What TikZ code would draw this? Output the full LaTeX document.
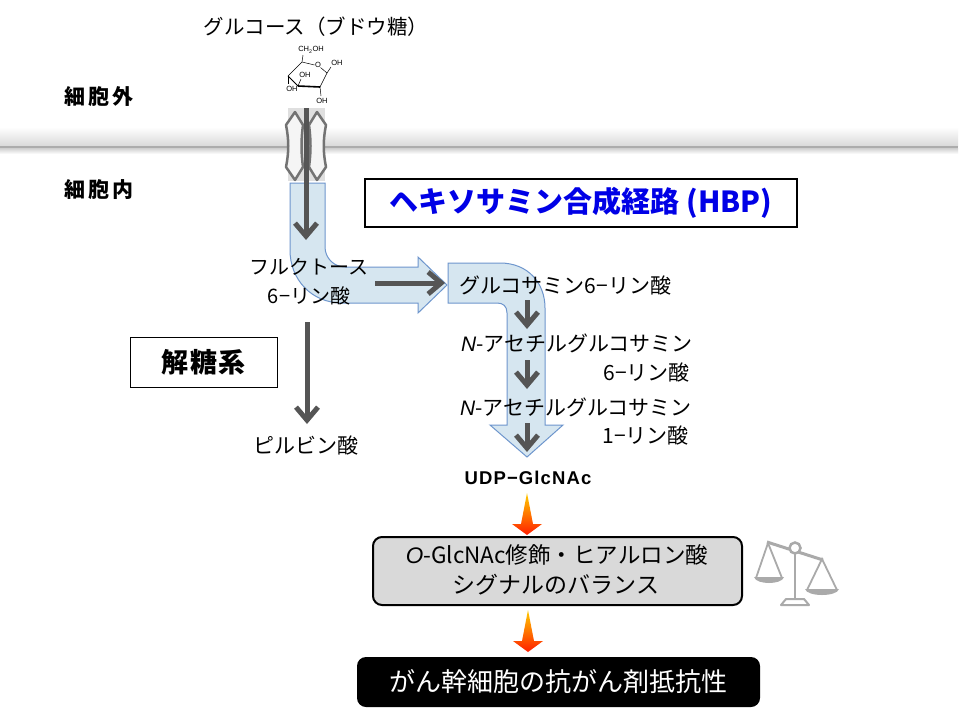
\documentclass[tikz,border=0pt]{standalone}
\usepackage{fontspec}
\setmainfont{Noto Sans CJK JP}
\newfontfamily\lsans{Liberation Sans}
\usetikzlibrary{arrows.meta,calc}
\definecolor{dgray}{RGB}{85,85,85}
\definecolor{bluefill}{RGB}{214,230,240}
\definecolor{blueline}{RGB}{110,150,205}
\definecolor{hbpblue}{RGB}{0,0,230}
\definecolor{piecegray}{RGB}{115,115,115}
\definecolor{scalegray}{RGB}{170,170,170}
\definecolor{boxgray}{RGB}{217,217,217}
\definecolor{yel}{RGB}{255,205,0}
\definecolor{red1}{RGB}{255,30,0}
\tikzset{
  darr/.style={draw=dgray, line width=5pt, -{Straight Barb[length=13pt,width=22pt]}},
  txt/.style={inner sep=0pt, font=\fontsize{20}{24}\selectfont},
  txtb/.style={inner sep=0pt, font=\fontsize{21}{24}\selectfont},
  chem/.style={inner sep=0pt, font=\lsans\fontsize{7.5}{7.5}\selectfont},
  piece/.style={draw=piecegray, line width=2.5pt, fill=gray!8, line join=round},
  bentarrow/.style={fill=bluefill, draw=blueline, line width=1pt},
  hotarrow/.style={top color=yel, bottom color=red1},
  scl/.style={draw=scalegray, line width=2.5pt},
}
\begin{document}
\begin{tikzpicture}[x=1pt,y=-1pt]
\useasboundingbox (0,0) rectangle (960,720);
\fill[white] (0,0) rectangle (960,720);
% membrane
\shade[top color=white,bottom color=gray!30] (0,127) rectangle (958,146);
\fill[gray!65] (0,146) rectangle (958,148.5);
\shade[top color=gray!35,bottom color=white] (0,148.5) rectangle (958,154);
% labels
\node[txt, font=\fontsize{21}{24}\selectfont\bfseries] (out) at (99,97) {細\kern3pt 胞\kern3pt 外};
\node[txt, font=\fontsize{21}{24}\selectfont\bfseries] (in) at (99,190) {細\kern3pt 胞\kern3pt 内};
\node[txt, font=\fontsize{20.5}{24}\selectfont] (glc) at (316,27) {グルコース（ブドウ糖）};
% glucose structure
\coordinate (c5) at (302,62);
\coordinate (o5) at (318,65);
\coordinate (c1) at (327,73);
\coordinate (c2) at (320,87);
\coordinate (c3) at (298,86);
\coordinate (c4) at (288,76);
\draw[line width=0.5pt] (c5) -- ($(o5)+(-3.5,0)$);
\draw[line width=0.5pt] ($(o5)+(2.5,2.5)$) -- (c1) -- (c2);
\draw[line width=1.6pt] (c2) -- (c3);
\draw[line width=0.8pt] (c3) -- (c4);
\draw[line width=0.5pt] (c4) -- (c5) -- (303,55);
\node[chem] (ch2oh) at (311,50) {CH\textsubscript{2}OH};
\node[chem] (oring) at (318,65) {O};
\draw[line width=0.5pt] (c1) -- (331,67);
\node[chem] (oh1) at (337,63) {OH};
\draw[line width=0.5pt] (c2) -- (321,96);
\node[chem] (oh2) at (322,101) {OH};
\draw[line width=0.5pt] (c3) -- (301,79);
\node[chem] (oh3) at (305,75) {OH};
\draw[line width=0.5pt] (c4) -- (288,84);
\node[chem] (oh4) at (292,89) {OH};
% channel
\fill[gray!25] (288,108) rectangle (325,181);
\path[piece] (295,112) -- (303,125) .. controls (301,140) and (301,152) .. (303,167) -- (295,180) -- (286,167) .. controls (289,152) and (289,140) .. (286,125) -- cycle;
\path[piece] (317,112) -- (309,125) .. controls (311,140) and (311,152) .. (309,167) -- (317,180) -- (326,167) .. controls (323,152) and (323,140) .. (326,125) -- cycle;
% bent arrows
\path[bentarrow] (290,183) -- (325,183) -- (325,247) .. controls (325,258) and (334,267) .. (345,267)
  -- (418,267) -- (418,257) -- (447,285) -- (418,313) -- (418,303) -- (342,303)
  .. controls (312,303) and (290,280) .. (290,250) -- cycle;
\path[bentarrow] (448,263) -- (500,263) .. controls (528,263) and (545,283) .. (545,308)
  -- (545,425) -- (563,425) -- (527,457) -- (490,425) -- (507,425) -- (507,313)
  .. controls (507,306) and (503,303) .. (497,303) -- (448,303) -- cycle;
% HBP box
\node[draw=black, line width=1.3pt, minimum width=432pt, minimum height=48pt, inner sep=0pt,
  font=\fontsize{29}{30}\selectfont\bfseries, text=hbpblue] (hbp) at (581,203) {ヘキソサミン合成経路 (HBP)};
% glycolysis box
\node[draw=black, line width=1pt, minimum width=147pt, minimum height=50pt, inner sep=0pt,
  font=\fontsize{27}{30}\selectfont\bfseries] (glyc) at (203.5,362) {解\kern2pt 糖\kern2pt 系};
% texts
\node[txt] (fru) at (309,267) {フルクトース};
\node[txt] (fru2) at (309,296) {6−リン酸};
\node[txtb, anchor=west] (gln) at (459,285) {グルコサミン6−リン酸};
\node[txtb, anchor=east] (nac1) at (693,343) {{\lsans\itshape N}-アセチルグルコサミン};
\node[txtb, anchor=east] (nac1b) at (690,372) {6−リン酸};
\node[txtb, anchor=east] (nac2) at (692,407) {{\lsans\itshape N}-アセチルグルコサミン};
\node[txtb, anchor=east] (nac2b) at (689,435) {1−リン酸};
\node[txtb] (pyr) at (306,445) {ピルビン酸};
\node[inner sep=0pt, font=\lsans\bfseries\fontsize{18.5}{20}\selectfont\addfontfeature{LetterSpace=6}] (udp) at (528,478) {UDP−GlcNAc};
% dark arrows
\coordinate (a1s) at (306,108); \coordinate (a1e) at (306,240);
\coordinate (a2s) at (375,283); \coordinate (a2e) at (445,283);
\coordinate (a3s) at (307,322); \coordinate (a3e) at (307,424);
\coordinate (b1s) at (527,300); \coordinate (b1e) at (527,329);
\coordinate (b2s) at (527,360); \coordinate (b2e) at (527,389);
\coordinate (b3s) at (527,423); \coordinate (b3e) at (527,452);
\draw[darr] (a1s) -- (a1e);
\draw[darr] (a2s) -- (a2e);
\draw[darr] (a3s) -- (a3e);
\draw[darr] (b1s) -- (b1e);
\draw[darr] (b2s) -- (b2e);
\draw[darr] (b3s) -- (b3e);
% hot arrows
\shade[hotarrow] (527,493) -- (533,524) -- (542,524) -- (527,535) -- (512,524) -- (521,524) -- cycle;
\shade[hotarrow] (528,610) -- (534,641) -- (543,641) -- (528,652) -- (513,641) -- (522,641) -- cycle;
% balance box
\draw[line width=2pt, fill=boxgray, rounded corners=9pt] (373,537) rectangle (742,605);
\node[inner sep=0pt, font=\fontsize{22.5}{26}\selectfont] (bal1) at (557,555) {{\lsans\itshape O}-GlcNAc修飾・ヒアルロン酸};
\node[inner sep=0pt, font=\fontsize{23}{26}\selectfont] (bal2) at (556,585) {シグナルのバランス};
% result box
\fill[black, rounded corners=9pt] (357,657) rectangle (760,707);
\node[inner sep=0pt, text=white, font=\fontsize{26}{30}\selectfont] (res) at (558,682) {がん幹細胞の抗がん剤抵抗性};
% scale icon
\draw[scl, line width=3pt] (767,542) -- (823,560);
\draw[scl, fill=white] (795,548) circle (5.5);
\draw[scl] (795,553.5) -- (795,599);
\draw[scl, line width=2pt, line join=round] (786,599) -- (804,599) -- (809,605) -- (781,605) -- cycle;
\draw[scl, line width=1.8pt] (756,578) -- (768,543) -- (782,578);
\fill[scalegray] (754,577) -- (784,577) .. controls (782,585) and (756,585) .. (754,577) -- cycle;
\draw[scl, line width=1.8pt] (807,590) -- (822,559) -- (837,590);
\fill[scalegray] (805,589) -- (839,589) .. controls (837,597) and (807,597) .. (805,589) -- cycle;
\end{tikzpicture}
\end{document}
